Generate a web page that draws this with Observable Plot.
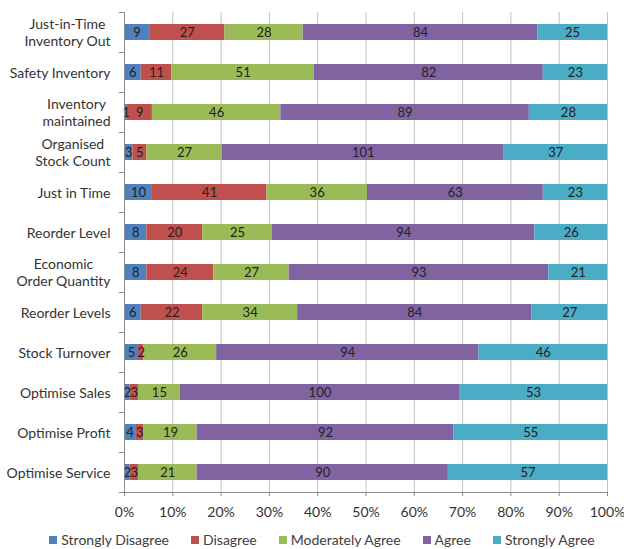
<!DOCTYPE html>
<html><head><meta charset="utf-8">
<script src="https://cdn.jsdelivr.net/npm/d3@7"></script>
<script src="https://cdn.jsdelivr.net/npm/@observablehq/plot@0.6"></script>
<style>
body{margin:0;background:#fff;font-family:Lato,"Open Sans",sans-serif;}
#chart svg{display:block;}
#legend{display:flex;justify-content:center;padding-left:20px;margin-top:6px;font-size:14px;line-height:18px;color:#404040;}
#legend .item{display:flex;align-items:center;margin:0 11px;}
#legend .sw{width:8px;height:8px;margin-right:4px;}
</style></head><body>
<div id="chart"></div>
<div id="legend"></div>
<script>
const categories = [
  "Just-in-Time\nInventory Out",
  "Safety Inventory",
  "Inventory\nmaintained",
  "Organised\nStock Count",
  "Just in Time",
  "Reorder Level",
  "Economic\nOrder Quantity",
  "Reorder Levels",
  "Stock Turnover",
  "Optimise Sales",
  "Optimise Profit",
  "Optimise Service"
];
const seriesNames = ["Strongly Disagree","Disagree","Moderately Agree","Agree","Strongly Agree"];
const seriesColors = ["#4F81BD","#C0504D","#9BBB59","#8064A2","#4BACC6"];
const stronglyDisagree = [9,6,1,3,10,8,8,6,5,2,4,2];
const disagree         = [27,11,9,5,41,20,24,22,2,3,3,3];
const moderatelyAgree  = [28,51,46,27,36,25,27,34,26,15,19,21];
const agree            = [84,82,89,101,63,94,93,84,94,100,92,90];
const stronglyAgree    = [25,23,28,37,23,26,21,27,46,53,55,57];
const xTicks = [0,0.1,0.2,0.3,0.4,0.5,0.6,0.7,0.8,0.9,1];

const seriesValues = [stronglyDisagree, disagree, moderatelyAgree, agree, stronglyAgree];
const rows = [];
categories.forEach((c, i) => {
  seriesNames.forEach((s, j) => rows.push({category: c, series: s, value: seriesValues[j][i]}));
});

const stackOpts = {offset: "normalize", x: "value", y: "category", z: "series", order: seriesNames};

const plot = Plot.plot({
  width: 624,
  height: 525,
  marginLeft: 124,
  marginRight: 17,
  marginTop: 12,
  marginBottom: 33,
  style: {fontFamily: "Lato, 'Open Sans', sans-serif", fontSize: "14px", color: "#333", background: "#fff"},
  x: {domain: [0, 1], axis: null, label: null},
  y: {domain: categories, paddingInner: 0.6, paddingOuter: 0.3, axis: null, label: null},
  color: {domain: seriesNames, range: seriesColors},
  marks: [
    Plot.gridX(xTicks, {stroke: "#c4c4c4", strokeOpacity: 1}),
    Plot.barX(rows, Plot.stackX({...stackOpts, fill: "series"})),
    Plot.text(rows, Plot.stackX({...stackOpts, text: d => d.value, fill: "#222", fontSize: 13})),
    Plot.frame({anchor: "left", stroke: "#8c8c8c"}),
    Plot.frame({anchor: "bottom", stroke: "#8c8c8c"}),
    Plot.ruleY(categories, {y: d => d, x1: -5/483, x2: 0, dy: -20, stroke: "#8c8c8c"}),
    Plot.ruleY(categories.slice(-1), {y: d => d, x1: -5/483, x2: 0, dy: 20, stroke: "#8c8c8c"}),
    Plot.axisX(xTicks, {label: null, tickSize: 4, tickPadding: 11, stroke: "#8c8c8c", tickFormat: d3.format(".0%"), fill: "#333", fontSize: 14}),
    Plot.axisY({label: null, tickSize: 0, tickPadding: 14, lineHeight: 1.2, fill: "#333", fontSize: 14})
  ]
});
document.getElementById("chart").appendChild(plot);

// center wrapped y labels (widest line right-aligned)
plot.querySelectorAll('g[aria-label="y-axis tick label"] text').forEach(t => {
  const spans = t.querySelectorAll("tspan");
  if (spans.length > 1) {
    let w = 0;
    spans.forEach(s => { w = Math.max(w, s.getComputedTextLength()); });
    t.setAttribute("text-anchor", "middle");
    spans.forEach(s => { s.setAttribute("x", -w / 2); });
  }
});

const legend = document.getElementById("legend");
seriesNames.forEach((s, j) => {
  const it = document.createElement("div");
  it.className = "item";
  it.innerHTML = `<span class="sw" style="background:${seriesColors[j]}"></span><span>${s}</span>`;
  legend.appendChild(it);
});
</script>
</body></html>
